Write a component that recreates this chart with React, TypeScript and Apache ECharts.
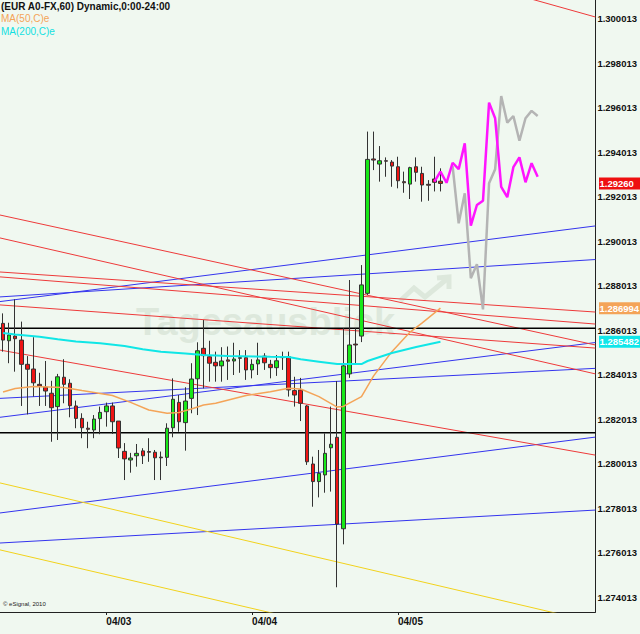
import React, { useEffect, useRef } from "react";
import * as echarts from "echarts";

const FONT = "'Liberation Sans', Arial, sans-serif";

const barCount = 98;
const dayStartIndex = [17, 41, 65];
const dayLabels = ["04/03", "04/04", "04/05"];

const yMin = 1.273339;
const yMax = 1.300844;

// hourly OHLC (EUR A0-FX, 60 min)
const opens = [1.28631, 1.28553, 1.28574, 1.28556, 1.28447, 1.28426, 1.28357, 1.28344, 1.28317, 1.28257, 1.28389, 1.28362, 1.2826, 1.28204, 1.2816, 1.28152, 1.28203, 1.28234, 1.2826, 1.28192, 1.28056, 1.28017, 1.28036, 1.28058, 1.28055, 1.28052, 1.2803, 1.28029, 1.28162, 1.28276, 1.28185, 1.28294, 1.28382, 1.28519, 1.28481, 1.28456, 1.2844, 1.28467, 1.28462, 1.28477, 1.28477, 1.28422, 1.28449, 1.28484, 1.28447, 1.28432, 1.28481, 1.28481, 1.28329, 1.28332, 1.2826, 1.27999, 1.2792, 1.2795, 1.28072, 1.28119, 1.27708, 1.28404, 1.28538, 1.28574, 1.28766, 1.2937, 1.29347, 1.29362, 1.29356, 1.29335, 1.29268, 1.29257, 1.29335, 1.29305, 1.29256, 1.2928, 1.2927];
const closes = [1.28556, 1.28579, 1.28562, 1.28447, 1.28425, 1.28364, 1.2835, 1.28327, 1.28252, 1.28391, 1.28357, 1.28261, 1.28204, 1.28162, 1.28155, 1.28201, 1.28231, 1.2826, 1.28189, 1.28071, 1.28022, 1.28026, 1.28047, 1.28036, 1.28052, 1.28027, 1.28027, 1.2816, 1.2829, 1.28189, 1.28282, 1.28381, 1.28508, 1.28486, 1.28452, 1.2844, 1.28462, 1.28461, 1.28471, 1.28474, 1.28422, 1.28447, 1.28467, 1.28454, 1.28432, 1.28463, 1.28477, 1.28332, 1.28309, 1.28272, 1.28009, 1.2792, 1.27957, 1.28047, 1.28088, 1.27729, 1.2844, 1.28534, 1.28534, 1.28804, 1.29368, 1.29365, 1.29362, 1.2936, 1.29338, 1.29272, 1.29263, 1.29331, 1.2931, 1.29253, 1.29252, 1.29265, 1.2926];
const lows = [1.28504, 1.28452, 1.28414, 1.2826, 1.28222, 1.28302, 1.2826, 1.2826, 1.28099, 1.28107, 1.28272, 1.28209, 1.2816, 1.28115, 1.2807, 1.28115, 1.28133, 1.28167, 1.28134, 1.28026, 1.27927, 1.2796, 1.27987, 1.27999, 1.28009, 1.27927, 1.27927, 1.2799, 1.28119, 1.28144, 1.28059, 1.28227, 1.28219, 1.28339, 1.28369, 1.28369, 1.28369, 1.28377, 1.28399, 1.28409, 1.28377, 1.28384, 1.28399, 1.28422, 1.28384, 1.28395, 1.28422, 1.28302, 1.28257, 1.28192, 1.27995, 1.27807, 1.27849, 1.2787, 1.27875, 1.27445, 1.27638, 1.28386, 1.28452, 1.28547, 1.28759, 1.2932, 1.29268, 1.2929, 1.29245, 1.29238, 1.29218, 1.2919, 1.29268, 1.29178, 1.29182, 1.29224, 1.29224];
const highs = [1.28676, 1.28634, 1.28739, 1.28639, 1.28484, 1.28569, 1.28409, 1.28462, 1.28373, 1.28404, 1.2847, 1.2838, 1.28284, 1.28227, 1.28189, 1.28219, 1.28257, 1.28275, 1.28275, 1.28192, 1.28093, 1.28049, 1.28089, 1.2807, 1.28115, 1.28062, 1.28055, 1.28182, 1.28384, 1.28309, 1.28344, 1.28452, 1.28546, 1.28646, 1.28553, 1.28504, 1.28524, 1.28527, 1.28544, 1.28511, 1.28511, 1.2847, 1.28544, 1.28497, 1.28467, 1.28489, 1.28504, 1.28504, 1.28391, 1.28386, 1.28264, 1.28032, 1.28062, 1.28137, 1.28257, 1.28372, 1.2861, 1.28826, 1.28609, 1.28893, 1.29493, 1.29493, 1.29428, 1.29377, 1.29365, 1.2938, 1.29313, 1.29335, 1.29377, 1.29335, 1.29275, 1.2938, 1.29328];

// moving averages (read at visible points)
const ma50Index = [0, 2, 5, 10, 13, 18, 21, 24, 27, 29, 31, 33, 35, 40, 44, 47, 49, 52, 55, 56, 59, 61, 64, 67, 69, 72];
const ma50Values = [1.28323, 1.28338, 1.28347, 1.28343, 1.28329, 1.28307, 1.28276, 1.28242, 1.28227, 1.28231, 1.28246, 1.28264, 1.28272, 1.28307, 1.28324, 1.28339, 1.28336, 1.28302, 1.28255, 1.28258, 1.28302, 1.28395, 1.28504, 1.28592, 1.28633, 1.286994];
const ma200Index = [0, 2, 6, 9, 12, 16, 20, 23, 26, 30, 33, 37, 44, 47, 49, 52, 55, 59, 60, 64, 68, 72];
const ma200Values = [1.28588, 1.28581, 1.28571, 1.2856, 1.2855, 1.28542, 1.28529, 1.28515, 1.28504, 1.28496, 1.28489, 1.28484, 1.28481, 1.2848, 1.2847, 1.28459, 1.28448, 1.28448, 1.28462, 1.28498, 1.28525, 1.285482];

// projection paths
const magentaStart = 71;
const magentaValues = [1.29268, 1.29313, 1.29263, 1.29353, 1.29324, 1.2944, 1.2907, 1.29163, 1.29182, 1.29623, 1.29553, 1.29245, 1.29198, 1.29333, 1.29377, 1.29265, 1.29351, 1.2929];
const grayStart = 74;
const grayValues = [1.29338, 1.29081, 1.29216, 1.28834, 1.28897, 1.28694, 1.29261, 1.29324, 1.29653, 1.29533, 1.29563, 1.29452, 1.29553, 1.29586, 1.29563];

// trend lines: price at left edge, price at right edge of the plot
const blueLines = [
  [1.28729, 1.29069],
  [1.2875, 1.28918],
  [1.28294, 1.28429],
  [1.28209, 1.28545],
  [1.27779, 1.2812],
  [1.27644, 1.27792],
];
const redLines = [
  [1.30759, 1.30008],
  [1.29118, 1.28534],
  [1.29015, 1.28404],
  [1.28862, 1.28682],
  [1.2884, 1.28628],
  [1.28714, 1.2852],
  [1.28511, 1.28039],
];
const yellowLines = [
  [1.27613, 1.26992],
  [1.27914, 1.27287],
];
const blackLevels = [1.28609, 1.2814];

const lastPrice = 1.2926;
const ma50Last = 1.286994;
const ma200Last = 1.285482;

const categories = Array.from({ length: barCount }, (_, i) => String(i));

function sparse(index: number[], values: number[]) {
  const arr: (number | null)[] = new Array(barCount).fill(null);
  index.forEach((ix, k) => (arr[ix] = values[k]));
  return arr;
}
function run(start: number, values: number[]) {
  const arr: (number | null)[] = new Array(barCount).fill(null);
  values.forEach((v, k) => (arr[start + k] = v));
  return arr;
}

const xLeft = -0.5;
const xRight = barCount - 0.5;

function trend(pair: number[], color: string, width = 1) {
  return {
    type: "line",
    xAxisIndex: 1,
    yAxisIndex: 0,
    data: [
      [xLeft, pair[0]],
      [xRight, pair[1]],
    ],
    symbol: "none",
    silent: true,
    z: 1,
    clip: true,
    lineStyle: { color, width },
  };
}

export default function App() {
  const ref = useRef<HTMLDivElement>(null);
  useEffect(() => {
    if (!ref.current) return;
    const chart = echarts.init(ref.current, null, { renderer: "svg" });
    const candleData = opens.map((o, i) => [o, closes[i], lows[i], highs[i]]);
    const series: any[] = [];
    blueLines.forEach((p) => series.push(trend(p, "#3434ee")));
    redLines.forEach((p) => series.push(trend(p, "#ee3a3a")));
    yellowLines.forEach((p) => series.push(trend(p, "#f2d21c")));
    blackLevels.forEach((v) => series.push(trend([v, v], "#000000", 1.5)));
    series.push({
      type: "candlestick",
      xAxisIndex: 0,
      yAxisIndex: 0,
      data: candleData,
      barWidth: 4,
      z: 3,
      itemStyle: {
        color: "#18e818",
        color0: "#ee1414",
        borderColor: "#333333",
        borderColor0: "#333333",
        borderWidth: 1,
      },
    });
    series.push({
      type: "line",
      xAxisIndex: 0,
      data: sparse(ma50Index, ma50Values),
      connectNulls: true,
      symbol: "none",
      z: 4,
      lineStyle: { color: "#f4a458", width: 1.5 },
    });
    series.push({
      type: "line",
      xAxisIndex: 0,
      data: sparse(ma200Index, ma200Values),
      connectNulls: true,
      symbol: "none",
      z: 4,
      lineStyle: { color: "#10e6e6", width: 2 },
    });
    series.push({
      type: "line",
      xAxisIndex: 0,
      data: run(grayStart, grayValues),
      symbol: "none",
      z: 5,
      lineStyle: { color: "#b4b4b4", width: 2.5 },
    });
    series.push({
      type: "line",
      xAxisIndex: 0,
      data: run(magentaStart, magentaValues),
      symbol: "none",
      z: 6,
      lineStyle: { color: "#ff14ff", width: 2.5 },
    });

    chart.setOption({
      animation: false,
      backgroundColor: "#f0f8f0",
      grid: { left: 0, top: 0, width: 598, height: 612, containLabel: false },
      xAxis: [
        {
          type: "category",
          data: categories,
          boundaryGap: true,
          axisLine: { show: true, onZero: false, lineStyle: { color: "#222", width: 1 } },
          axisTick: {
            show: true,
            alignWithLabel: true,
            length: 3,
            interval: (i: number) => dayStartIndex.includes(i),
            lineStyle: { color: "#222" },
          },
          axisLabel: {
            interval: (i: number) => dayStartIndex.includes(i),
            formatter: (_v: string, i: number) => {
              const k = dayStartIndex.indexOf(i);
              return k >= 0 ? dayLabels[k] : "";
            },
            align: "left",
            margin: 4,
            fontSize: 10,
            fontWeight: "bold",
            color: "#111",
            fontFamily: FONT,
          },
          splitLine: { show: false },
        },
        { type: "value", min: xLeft, max: xRight, show: false, axisLine: { onZero: false } },
      ],
      yAxis: {
        type: "value",
        position: "right",
        min: yMin,
        max: yMax,
        splitNumber: 14,
        axisLine: { show: true, onZero: false, lineStyle: { color: "#222", width: 1 } },
        axisTick: { show: false },
        splitLine: { show: false },
        axisLabel: {
          showMinLabel: false,
          showMaxLabel: false,
          margin: 2,
          fontSize: 9.5,
          fontWeight: "bold",
          color: "#111",
          fontFamily: FONT,
          formatter: (v: number) => v.toFixed(3) + "013",
        },
      },
      series,
    });

    const badge = (value: number, text: string, color: string) => {
      const y = chart.convertToPixel({ yAxisIndex: 0 }, value) as number;
      return {
        type: "group",
        z: 20,
        children: [
          { type: "rect", shape: { x: 599, y: y - 6, width: 41, height: 12 }, style: { fill: color } },
          {
            type: "text",
            style: {
              text,
              x: 599.5,
              y: y,
              fill: "#ffffff",
              fontSize: 9.5,
              fontWeight: "bold",
              fontFamily: FONT,
              verticalAlign: "middle",
              textVerticalAlign: "middle",
            },
          },
        ],
      };
    };

    chart.setOption({
      graphic: [
        {
          type: "text",
          z: 0,
          silent: true,
          style: {
            text: "Tagesausblick",
            x: 136,
            y: 303,
            fill: "#dde8dc",
            fontSize: 38,
            fontWeight: "bold",
            fontFamily: FONT,
            verticalAlign: "alphabetic",
            textBaseline: "alphabetic",
          },
        },
        {
          type: "polyline",
          z: 0,
          silent: true,
          shape: { points: [[400, 301], [414, 288], [425, 297], [447, 279]] },
          style: { stroke: "#dde8dc", lineWidth: 5, fill: "none" },
        },
        {
          type: "polyline",
          z: 0,
          silent: true,
          shape: { points: [[437, 278], [449, 277], [449, 289]] },
          style: { stroke: "#dde8dc", lineWidth: 5, fill: "none" },
        },
        {
          type: "text",
          z: 10,
          style: { text: "(EUR A0-FX,60) Dynamic,0:00-24:00", x: 1, y: 1, fill: "#111", fontSize: 10, fontWeight: "bold", fontFamily: FONT, verticalAlign: "top" },
        },
        {
          type: "text",
          z: 10,
          style: { text: "MA(50,C)e", x: 1, y: 13, fill: "#f4a458", fontSize: 10, fontFamily: FONT, verticalAlign: "top" },
        },
        {
          type: "text",
          z: 10,
          style: { text: "MA(200,C)e", x: 1, y: 26, fill: "#10e0e0", fontSize: 10, fontFamily: FONT, verticalAlign: "top" },
        },
        {
          type: "text",
          z: 10,
          style: { text: "© eSignal, 2010", x: 3, y: 607, fill: "#222", fontSize: 6, fontFamily: FONT, verticalAlign: "bottom" },
        },
        badge(lastPrice, "1.29260", "#ee1010"),
        badge(ma50Last, "1.286994", "#f4a458"),
        badge(ma200Last, "1.285482", "#10e6ea"),
      ],
    });

    return () => chart.dispose();
  }, []);
  return <div ref={ref} style={{ position: "fixed", left: 0, top: 0, width: 640, height: 634 }} />;
}
